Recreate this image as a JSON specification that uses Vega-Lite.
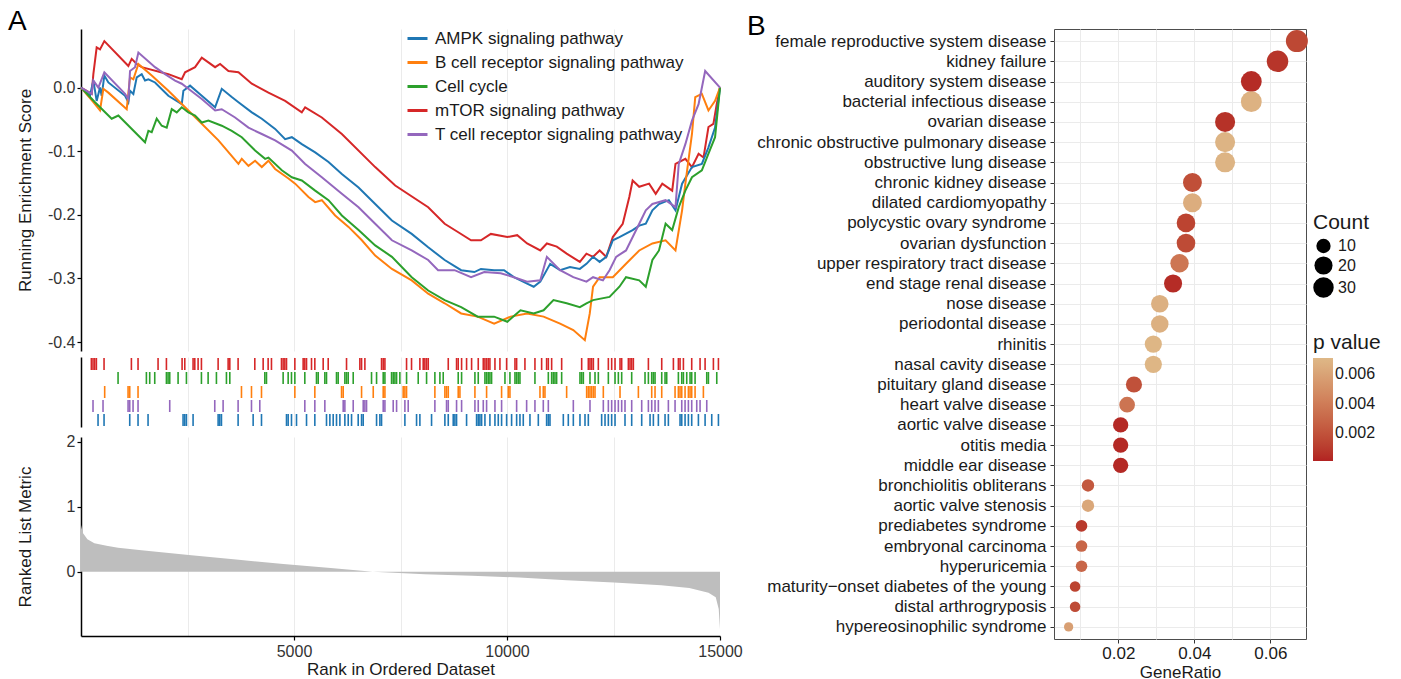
{
"$schema":"https://vega.github.io/schema/vega-lite/v6.json",
"background":"white",
"padding":{"left":8,"top":8,"right":0,"bottom":0},
"config":{
 "font":"Liberation Sans",
 "view":{"stroke":null},
 "axis":{"labelFont":"Liberation Sans","titleFont":"Liberation Sans","labelColor":"#333333","titleColor":"#1a1a1a","titleFontWeight":"normal","domainColor":"#000000","tickColor":"#000000","gridColor":"#EBEBEB","gridWidth":1,"labelFontSize":16,"titleFontSize":17,"labelLimit":500},
 "legend":{"labelFont":"Liberation Sans","titleFont":"Liberation Sans","titleFontWeight":"normal","labelColor":"#1a1a1a","titleColor":"#1a1a1a","labelLimit":500},
 "title":{"font":"Liberation Sans","fontWeight":"normal","fontSize":28,"color":"#000000"}
},
"datasets":{
"es":[
{"p":"mTOR signaling pathway","x":0,"y":0},{"p":"mTOR signaling pathway","x":251,"y":-0.010},{"p":"mTOR signaling pathway","x":290,"y":0.021},{"p":"mTOR signaling pathway","x":368,"y":0.063},{"p":"mTOR signaling pathway","x":446,"y":0.060},{"p":"mTOR signaling pathway","x":548,"y":0.073},{"p":"mTOR signaling pathway","x":1112,"y":0.034},{"p":"mTOR signaling pathway","x":1190,"y":0.045},{"p":"mTOR signaling pathway","x":1308,"y":0.037},{"p":"mTOR signaling pathway","x":1425,"y":0.032},{"p":"mTOR signaling pathway","x":2051,"y":0.021},{"p":"mTOR signaling pathway","x":2365,"y":0.013},{"p":"mTOR signaling pathway","x":2443,"y":0.024},{"p":"mTOR signaling pathway","x":2678,"y":0.032},{"p":"mTOR signaling pathway","x":2835,"y":0.047},{"p":"mTOR signaling pathway","x":3148,"y":0.032},{"p":"mTOR signaling pathway","x":3265,"y":0.037},{"p":"mTOR signaling pathway","x":3461,"y":0.026},{"p":"mTOR signaling pathway","x":3696,"y":0.024},{"p":"mTOR signaling pathway","x":4009,"y":0.006},{"p":"mTOR signaling pathway","x":4400,"y":-0.008},{"p":"mTOR signaling pathway","x":4792,"y":-0.021},{"p":"mTOR signaling pathway","x":5183,"y":-0.039},{"p":"mTOR signaling pathway","x":5262,"y":-0.031},{"p":"mTOR signaling pathway","x":5653,"y":-0.047},{"p":"mTOR signaling pathway","x":6123,"y":-0.073},{"p":"mTOR signaling pathway","x":6906,"y":-0.125},{"p":"mTOR signaling pathway","x":7376,"y":-0.154},{"p":"mTOR signaling pathway","x":8150,"y":-0.188},{"p":"mTOR signaling pathway","x":8537,"y":-0.214},{"p":"mTOR signaling pathway","x":8847,"y":-0.227},{"p":"mTOR signaling pathway","x":9156,"y":-0.240},{"p":"mTOR signaling pathway","x":9388,"y":-0.240},{"p":"mTOR signaling pathway","x":9621,"y":-0.230},{"p":"mTOR signaling pathway","x":10008,"y":-0.235},{"p":"mTOR signaling pathway","x":10240,"y":-0.232},{"p":"mTOR signaling pathway","x":10472,"y":-0.245},{"p":"mTOR signaling pathway","x":10782,"y":-0.256},{"p":"mTOR signaling pathway","x":10936,"y":-0.245},{"p":"mTOR signaling pathway","x":11169,"y":-0.250},{"p":"mTOR signaling pathway","x":11401,"y":-0.261},{"p":"mTOR signaling pathway","x":11710,"y":-0.274},{"p":"mTOR signaling pathway","x":11865,"y":-0.261},{"p":"mTOR signaling pathway","x":12020,"y":-0.266},{"p":"mTOR signaling pathway","x":12175,"y":-0.256},{"p":"mTOR signaling pathway","x":12330,"y":-0.266},{"p":"mTOR signaling pathway","x":12484,"y":-0.235},{"p":"mTOR signaling pathway","x":12717,"y":-0.214},{"p":"mTOR signaling pathway","x":12871,"y":-0.172},{"p":"mTOR signaling pathway","x":12949,"y":-0.146},{"p":"mTOR signaling pathway","x":13104,"y":-0.156},{"p":"mTOR signaling pathway","x":13336,"y":-0.151},{"p":"mTOR signaling pathway","x":13491,"y":-0.167},{"p":"mTOR signaling pathway","x":13645,"y":-0.151},{"p":"mTOR signaling pathway","x":13878,"y":-0.162},{"p":"mTOR signaling pathway","x":13955,"y":-0.120},{"p":"mTOR signaling pathway","x":14187,"y":-0.112},{"p":"mTOR signaling pathway","x":14342,"y":-0.125},{"p":"mTOR signaling pathway","x":14497,"y":-0.104},{"p":"mTOR signaling pathway","x":14613,"y":-0.110},{"p":"mTOR signaling pathway","x":14729,"y":-0.062},{"p":"mTOR signaling pathway","x":14845,"y":-0.057},{"p":"mTOR signaling pathway","x":14923,"y":-0.026},{"p":"mTOR signaling pathway","x":15000,"y":0},
{"p":"AMPK signaling pathway","x":0,"y":0},{"p":"AMPK signaling pathway","x":211,"y":-0.013},{"p":"AMPK signaling pathway","x":290,"y":0.011},{"p":"AMPK signaling pathway","x":368,"y":-0.021},{"p":"AMPK signaling pathway","x":446,"y":0.000},{"p":"AMPK signaling pathway","x":485,"y":-0.013},{"p":"AMPK signaling pathway","x":548,"y":0.019},{"p":"AMPK signaling pathway","x":642,"y":0.008},{"p":"AMPK signaling pathway","x":1034,"y":-0.013},{"p":"AMPK signaling pathway","x":1112,"y":-0.023},{"p":"AMPK signaling pathway","x":1151,"y":-0.005},{"p":"AMPK signaling pathway","x":1229,"y":-0.010},{"p":"AMPK signaling pathway","x":1308,"y":0.016},{"p":"AMPK signaling pathway","x":1425,"y":0.021},{"p":"AMPK signaling pathway","x":1503,"y":0.011},{"p":"AMPK signaling pathway","x":1582,"y":0.013},{"p":"AMPK signaling pathway","x":1738,"y":0.008},{"p":"AMPK signaling pathway","x":2051,"y":-0.013},{"p":"AMPK signaling pathway","x":2365,"y":-0.026},{"p":"AMPK signaling pathway","x":2404,"y":-0.005},{"p":"AMPK signaling pathway","x":2560,"y":0.003},{"p":"AMPK signaling pathway","x":2835,"y":-0.013},{"p":"AMPK signaling pathway","x":3148,"y":-0.031},{"p":"AMPK signaling pathway","x":3304,"y":-0.002},{"p":"AMPK signaling pathway","x":3539,"y":-0.015},{"p":"AMPK signaling pathway","x":3696,"y":-0.023},{"p":"AMPK signaling pathway","x":4009,"y":-0.039},{"p":"AMPK signaling pathway","x":4244,"y":-0.049},{"p":"AMPK signaling pathway","x":4557,"y":-0.065},{"p":"AMPK signaling pathway","x":4792,"y":-0.081},{"p":"AMPK signaling pathway","x":4949,"y":-0.078},{"p":"AMPK signaling pathway","x":5183,"y":-0.089},{"p":"AMPK signaling pathway","x":5497,"y":-0.102},{"p":"AMPK signaling pathway","x":5810,"y":-0.117},{"p":"AMPK signaling pathway","x":6123,"y":-0.136},{"p":"AMPK signaling pathway","x":6515,"y":-0.157},{"p":"AMPK signaling pathway","x":6906,"y":-0.183},{"p":"AMPK signaling pathway","x":7298,"y":-0.209},{"p":"AMPK signaling pathway","x":7763,"y":-0.230},{"p":"AMPK signaling pathway","x":8150,"y":-0.251},{"p":"AMPK signaling pathway","x":8537,"y":-0.271},{"p":"AMPK signaling pathway","x":8924,"y":-0.287},{"p":"AMPK signaling pathway","x":9234,"y":-0.290},{"p":"AMPK signaling pathway","x":9388,"y":-0.285},{"p":"AMPK signaling pathway","x":9698,"y":-0.287},{"p":"AMPK signaling pathway","x":9930,"y":-0.287},{"p":"AMPK signaling pathway","x":10162,"y":-0.298},{"p":"AMPK signaling pathway","x":10472,"y":-0.308},{"p":"AMPK signaling pathway","x":10627,"y":-0.313},{"p":"AMPK signaling pathway","x":10782,"y":-0.305},{"p":"AMPK signaling pathway","x":11014,"y":-0.277},{"p":"AMPK signaling pathway","x":11246,"y":-0.287},{"p":"AMPK signaling pathway","x":11478,"y":-0.282},{"p":"AMPK signaling pathway","x":11710,"y":-0.285},{"p":"AMPK signaling pathway","x":11865,"y":-0.277},{"p":"AMPK signaling pathway","x":12020,"y":-0.266},{"p":"AMPK signaling pathway","x":12175,"y":-0.274},{"p":"AMPK signaling pathway","x":12330,"y":-0.266},{"p":"AMPK signaling pathway","x":12484,"y":-0.240},{"p":"AMPK signaling pathway","x":12639,"y":-0.235},{"p":"AMPK signaling pathway","x":12949,"y":-0.224},{"p":"AMPK signaling pathway","x":13104,"y":-0.217},{"p":"AMPK signaling pathway","x":13258,"y":-0.214},{"p":"AMPK signaling pathway","x":13413,"y":-0.193},{"p":"AMPK signaling pathway","x":13568,"y":-0.183},{"p":"AMPK signaling pathway","x":13800,"y":-0.177},{"p":"AMPK signaling pathway","x":13955,"y":-0.193},{"p":"AMPK signaling pathway","x":14110,"y":-0.151},{"p":"AMPK signaling pathway","x":14342,"y":-0.125},{"p":"AMPK signaling pathway","x":14574,"y":-0.120},{"p":"AMPK signaling pathway","x":14729,"y":-0.094},{"p":"AMPK signaling pathway","x":14884,"y":-0.063},{"p":"AMPK signaling pathway","x":15000,"y":0},
{"p":"B cell receptor signaling pathway","x":0,"y":0},{"p":"B cell receptor signaling pathway","x":290,"y":-0.023},{"p":"B cell receptor signaling pathway","x":446,"y":-0.036},{"p":"B cell receptor signaling pathway","x":525,"y":-0.002},{"p":"B cell receptor signaling pathway","x":642,"y":-0.008},{"p":"B cell receptor signaling pathway","x":1073,"y":-0.034},{"p":"B cell receptor signaling pathway","x":1151,"y":0.016},{"p":"B cell receptor signaling pathway","x":1229,"y":0.013},{"p":"B cell receptor signaling pathway","x":1347,"y":0.037},{"p":"B cell receptor signaling pathway","x":1660,"y":0.019},{"p":"B cell receptor signaling pathway","x":2051,"y":-0.005},{"p":"B cell receptor signaling pathway","x":2443,"y":-0.031},{"p":"B cell receptor signaling pathway","x":2835,"y":-0.057},{"p":"B cell receptor signaling pathway","x":3226,"y":-0.083},{"p":"B cell receptor signaling pathway","x":3696,"y":-0.120},{"p":"B cell receptor signaling pathway","x":3774,"y":-0.112},{"p":"B cell receptor signaling pathway","x":3931,"y":-0.123},{"p":"B cell receptor signaling pathway","x":4087,"y":-0.115},{"p":"B cell receptor signaling pathway","x":4244,"y":-0.125},{"p":"B cell receptor signaling pathway","x":4400,"y":-0.115},{"p":"B cell receptor signaling pathway","x":4557,"y":-0.128},{"p":"B cell receptor signaling pathway","x":4870,"y":-0.143},{"p":"B cell receptor signaling pathway","x":5027,"y":-0.151},{"p":"B cell receptor signaling pathway","x":5340,"y":-0.172},{"p":"B cell receptor signaling pathway","x":5497,"y":-0.180},{"p":"B cell receptor signaling pathway","x":5653,"y":-0.177},{"p":"B cell receptor signaling pathway","x":5966,"y":-0.201},{"p":"B cell receptor signaling pathway","x":6280,"y":-0.219},{"p":"B cell receptor signaling pathway","x":6593,"y":-0.240},{"p":"B cell receptor signaling pathway","x":6906,"y":-0.264},{"p":"B cell receptor signaling pathway","x":7298,"y":-0.285},{"p":"B cell receptor signaling pathway","x":7763,"y":-0.303},{"p":"B cell receptor signaling pathway","x":8150,"y":-0.324},{"p":"B cell receptor signaling pathway","x":8537,"y":-0.339},{"p":"B cell receptor signaling pathway","x":8924,"y":-0.355},{"p":"B cell receptor signaling pathway","x":9311,"y":-0.360},{"p":"B cell receptor signaling pathway","x":9698,"y":-0.371},{"p":"B cell receptor signaling pathway","x":10085,"y":-0.360},{"p":"B cell receptor signaling pathway","x":10472,"y":-0.355},{"p":"B cell receptor signaling pathway","x":10859,"y":-0.360},{"p":"B cell receptor signaling pathway","x":11246,"y":-0.371},{"p":"B cell receptor signaling pathway","x":11556,"y":-0.381},{"p":"B cell receptor signaling pathway","x":11827,"y":-0.397},{"p":"B cell receptor signaling pathway","x":11943,"y":-0.355},{"p":"B cell receptor signaling pathway","x":12020,"y":-0.313},{"p":"B cell receptor signaling pathway","x":12175,"y":-0.298},{"p":"B cell receptor signaling pathway","x":12484,"y":-0.298},{"p":"B cell receptor signaling pathway","x":12794,"y":-0.277},{"p":"B cell receptor signaling pathway","x":13104,"y":-0.256},{"p":"B cell receptor signaling pathway","x":13413,"y":-0.245},{"p":"B cell receptor signaling pathway","x":13723,"y":-0.240},{"p":"B cell receptor signaling pathway","x":13955,"y":-0.256},{"p":"B cell receptor signaling pathway","x":14110,"y":-0.193},{"p":"B cell receptor signaling pathway","x":14187,"y":-0.151},{"p":"B cell receptor signaling pathway","x":14342,"y":-0.073},{"p":"B cell receptor signaling pathway","x":14419,"y":-0.015},{"p":"B cell receptor signaling pathway","x":14574,"y":-0.010},{"p":"B cell receptor signaling pathway","x":14729,"y":-0.036},{"p":"B cell receptor signaling pathway","x":14884,"y":-0.021},{"p":"B cell receptor signaling pathway","x":15000,"y":0},
{"p":"Cell cycle","x":0,"y":0},{"p":"Cell cycle","x":329,"y":-0.023},{"p":"Cell cycle","x":720,"y":-0.049},{"p":"Cell cycle","x":877,"y":-0.044},{"p":"Cell cycle","x":1503,"y":-0.086},{"p":"Cell cycle","x":1582,"y":-0.068},{"p":"Cell cycle","x":1660,"y":-0.070},{"p":"Cell cycle","x":1777,"y":-0.049},{"p":"Cell cycle","x":1895,"y":-0.060},{"p":"Cell cycle","x":2012,"y":-0.063},{"p":"Cell cycle","x":2130,"y":-0.034},{"p":"Cell cycle","x":2247,"y":-0.039},{"p":"Cell cycle","x":2365,"y":-0.031},{"p":"Cell cycle","x":2521,"y":-0.039},{"p":"Cell cycle","x":2678,"y":-0.044},{"p":"Cell cycle","x":2835,"y":-0.055},{"p":"Cell cycle","x":2991,"y":-0.052},{"p":"Cell cycle","x":3304,"y":-0.060},{"p":"Cell cycle","x":3539,"y":-0.068},{"p":"Cell cycle","x":3774,"y":-0.078},{"p":"Cell cycle","x":4087,"y":-0.099},{"p":"Cell cycle","x":4322,"y":-0.112},{"p":"Cell cycle","x":4400,"y":-0.110},{"p":"Cell cycle","x":4714,"y":-0.130},{"p":"Cell cycle","x":4949,"y":-0.141},{"p":"Cell cycle","x":5183,"y":-0.146},{"p":"Cell cycle","x":5497,"y":-0.162},{"p":"Cell cycle","x":5810,"y":-0.177},{"p":"Cell cycle","x":6123,"y":-0.201},{"p":"Cell cycle","x":6515,"y":-0.224},{"p":"Cell cycle","x":6906,"y":-0.248},{"p":"Cell cycle","x":7298,"y":-0.266},{"p":"Cell cycle","x":7763,"y":-0.298},{"p":"Cell cycle","x":8150,"y":-0.319},{"p":"Cell cycle","x":8537,"y":-0.334},{"p":"Cell cycle","x":8924,"y":-0.345},{"p":"Cell cycle","x":9311,"y":-0.360},{"p":"Cell cycle","x":9698,"y":-0.360},{"p":"Cell cycle","x":10008,"y":-0.368},{"p":"Cell cycle","x":10317,"y":-0.350},{"p":"Cell cycle","x":10627,"y":-0.355},{"p":"Cell cycle","x":10859,"y":-0.350},{"p":"Cell cycle","x":11091,"y":-0.334},{"p":"Cell cycle","x":11401,"y":-0.339},{"p":"Cell cycle","x":11710,"y":-0.345},{"p":"Cell cycle","x":11865,"y":-0.339},{"p":"Cell cycle","x":12020,"y":-0.334},{"p":"Cell cycle","x":12407,"y":-0.329},{"p":"Cell cycle","x":12639,"y":-0.313},{"p":"Cell cycle","x":12794,"y":-0.298},{"p":"Cell cycle","x":13104,"y":-0.303},{"p":"Cell cycle","x":13258,"y":-0.313},{"p":"Cell cycle","x":13413,"y":-0.271},{"p":"Cell cycle","x":13568,"y":-0.256},{"p":"Cell cycle","x":13723,"y":-0.214},{"p":"Cell cycle","x":13878,"y":-0.224},{"p":"Cell cycle","x":14032,"y":-0.188},{"p":"Cell cycle","x":14187,"y":-0.162},{"p":"Cell cycle","x":14342,"y":-0.141},{"p":"Cell cycle","x":14574,"y":-0.130},{"p":"Cell cycle","x":14729,"y":-0.104},{"p":"Cell cycle","x":14884,"y":-0.078},{"p":"Cell cycle","x":15000,"y":0},
{"p":"T cell receptor signaling pathway","x":0,"y":0},{"p":"T cell receptor signaling pathway","x":251,"y":-0.010},{"p":"T cell receptor signaling pathway","x":290,"y":0.011},{"p":"T cell receptor signaling pathway","x":407,"y":0.000},{"p":"T cell receptor signaling pathway","x":548,"y":0.024},{"p":"T cell receptor signaling pathway","x":1034,"y":-0.010},{"p":"T cell receptor signaling pathway","x":1112,"y":-0.018},{"p":"T cell receptor signaling pathway","x":1151,"y":0.026},{"p":"T cell receptor signaling pathway","x":1268,"y":0.032},{"p":"T cell receptor signaling pathway","x":1347,"y":0.055},{"p":"T cell receptor signaling pathway","x":1738,"y":0.032},{"p":"T cell receptor signaling pathway","x":1973,"y":0.021},{"p":"T cell receptor signaling pathway","x":2208,"y":0.011},{"p":"T cell receptor signaling pathway","x":2365,"y":0.006},{"p":"T cell receptor signaling pathway","x":2521,"y":-0.002},{"p":"T cell receptor signaling pathway","x":2835,"y":-0.018},{"p":"T cell receptor signaling pathway","x":3148,"y":-0.036},{"p":"T cell receptor signaling pathway","x":3304,"y":-0.034},{"p":"T cell receptor signaling pathway","x":3617,"y":-0.047},{"p":"T cell receptor signaling pathway","x":3931,"y":-0.063},{"p":"T cell receptor signaling pathway","x":4244,"y":-0.073},{"p":"T cell receptor signaling pathway","x":4557,"y":-0.083},{"p":"T cell receptor signaling pathway","x":4949,"y":-0.099},{"p":"T cell receptor signaling pathway","x":5262,"y":-0.120},{"p":"T cell receptor signaling pathway","x":5653,"y":-0.141},{"p":"T cell receptor signaling pathway","x":6123,"y":-0.167},{"p":"T cell receptor signaling pathway","x":6515,"y":-0.188},{"p":"T cell receptor signaling pathway","x":6906,"y":-0.214},{"p":"T cell receptor signaling pathway","x":7298,"y":-0.240},{"p":"T cell receptor signaling pathway","x":7763,"y":-0.256},{"p":"T cell receptor signaling pathway","x":8150,"y":-0.271},{"p":"T cell receptor signaling pathway","x":8382,"y":-0.287},{"p":"T cell receptor signaling pathway","x":8769,"y":-0.287},{"p":"T cell receptor signaling pathway","x":9156,"y":-0.298},{"p":"T cell receptor signaling pathway","x":9466,"y":-0.290},{"p":"T cell receptor signaling pathway","x":9853,"y":-0.292},{"p":"T cell receptor signaling pathway","x":10162,"y":-0.298},{"p":"T cell receptor signaling pathway","x":10472,"y":-0.305},{"p":"T cell receptor signaling pathway","x":10782,"y":-0.303},{"p":"T cell receptor signaling pathway","x":10936,"y":-0.266},{"p":"T cell receptor signaling pathway","x":11246,"y":-0.287},{"p":"T cell receptor signaling pathway","x":11556,"y":-0.298},{"p":"T cell receptor signaling pathway","x":11865,"y":-0.305},{"p":"T cell receptor signaling pathway","x":12020,"y":-0.298},{"p":"T cell receptor signaling pathway","x":12252,"y":-0.303},{"p":"T cell receptor signaling pathway","x":12407,"y":-0.287},{"p":"T cell receptor signaling pathway","x":12562,"y":-0.266},{"p":"T cell receptor signaling pathway","x":12794,"y":-0.256},{"p":"T cell receptor signaling pathway","x":13104,"y":-0.214},{"p":"T cell receptor signaling pathway","x":13258,"y":-0.193},{"p":"T cell receptor signaling pathway","x":13413,"y":-0.183},{"p":"T cell receptor signaling pathway","x":13723,"y":-0.177},{"p":"T cell receptor signaling pathway","x":13955,"y":-0.188},{"p":"T cell receptor signaling pathway","x":14032,"y":-0.120},{"p":"T cell receptor signaling pathway","x":14187,"y":-0.089},{"p":"T cell receptor signaling pathway","x":14342,"y":-0.052},{"p":"T cell receptor signaling pathway","x":14497,"y":-0.026},{"p":"T cell receptor signaling pathway","x":14652,"y":0.026},{"p":"T cell receptor signaling pathway","x":15000,"y":0}
],
"hits":[
{"g":"mTOR","x":243},{"g":"mTOR","x":282},{"g":"mTOR","x":322},{"g":"mTOR","x":361},{"g":"mTOR","x":541},{"g":"mTOR","x":1183},{"g":"mTOR","x":1339},{"g":"mTOR","x":1809},{"g":"mTOR","x":2005},{"g":"mTOR","x":2373},{"g":"mTOR","x":2436},{"g":"mTOR","x":2631},{"g":"mTOR","x":2671},{"g":"mTOR","x":2749},{"g":"mTOR","x":2827},{"g":"mTOR","x":3219},{"g":"mTOR","x":3454},{"g":"mTOR","x":3493},{"g":"mTOR","x":3688},{"g":"mTOR","x":4080},{"g":"mTOR","x":4276},{"g":"mTOR","x":4393},{"g":"mTOR","x":4471},{"g":"mTOR","x":4706},{"g":"mTOR","x":4745},{"g":"mTOR","x":4785},{"g":"mTOR","x":4824},{"g":"mTOR","x":5020},{"g":"mTOR","x":5215},{"g":"mTOR","x":5254},{"g":"mTOR","x":5294},{"g":"mTOR","x":5411},{"g":"mTOR","x":5489},{"g":"mTOR","x":5685},{"g":"mTOR","x":5803},{"g":"mTOR","x":6233},{"g":"mTOR","x":6546},{"g":"mTOR","x":6586},{"g":"mTOR","x":6664},{"g":"mTOR","x":7055},{"g":"mTOR","x":7094},{"g":"mTOR","x":7134},{"g":"mTOR","x":7642},{"g":"mTOR","x":7759},{"g":"mTOR","x":7955},{"g":"mTOR","x":8033},{"g":"mTOR","x":8072},{"g":"mTOR","x":8112},{"g":"mTOR","x":8151},{"g":"mTOR","x":8621},{"g":"mTOR","x":8816},{"g":"mTOR","x":8855},{"g":"mTOR","x":8934},{"g":"mTOR","x":9051},{"g":"mTOR","x":9169},{"g":"mTOR","x":9325},{"g":"mTOR","x":9443},{"g":"mTOR","x":9482},{"g":"mTOR","x":9521},{"g":"mTOR","x":9560},{"g":"mTOR","x":9599},{"g":"mTOR","x":9717},{"g":"mTOR","x":9834},{"g":"mTOR","x":9991},{"g":"mTOR","x":10187},{"g":"mTOR","x":10226},{"g":"mTOR","x":10421},{"g":"mTOR","x":10656},{"g":"mTOR","x":10813},{"g":"mTOR","x":10930},{"g":"mTOR","x":10970},{"g":"mTOR","x":11048},{"g":"mTOR","x":11283},{"g":"mTOR","x":11753},{"g":"mTOR","x":11909},{"g":"mTOR","x":11948},{"g":"mTOR","x":11987},{"g":"mTOR","x":12027},{"g":"mTOR","x":12144},{"g":"mTOR","x":12379},{"g":"mTOR","x":12457},{"g":"mTOR","x":12536},{"g":"mTOR","x":12653},{"g":"mTOR","x":12692},{"g":"mTOR","x":12849},{"g":"mTOR","x":12888},{"g":"mTOR","x":12927},{"g":"mTOR","x":12966},{"g":"mTOR","x":13319},{"g":"mTOR","x":13632},{"g":"mTOR","x":13906},{"g":"mTOR","x":14023},{"g":"mTOR","x":14062},{"g":"mTOR","x":14141},{"g":"mTOR","x":14336},{"g":"mTOR","x":14532},{"g":"mTOR","x":14650},{"g":"mTOR","x":14845},{"g":"mTOR","x":14963},
{"g":"Cell","x":870},{"g":"Cell","x":1535},{"g":"Cell","x":1613},{"g":"Cell","x":1731},{"g":"Cell","x":2005},{"g":"Cell","x":2044},{"g":"Cell","x":2083},{"g":"Cell","x":2279},{"g":"Cell","x":2475},{"g":"Cell","x":2827},{"g":"Cell","x":2984},{"g":"Cell","x":3179},{"g":"Cell","x":3414},{"g":"Cell","x":3493},{"g":"Cell","x":4315},{"g":"Cell","x":4354},{"g":"Cell","x":4745},{"g":"Cell","x":4863},{"g":"Cell","x":4941},{"g":"Cell","x":5020},{"g":"Cell","x":5254},{"g":"Cell","x":5528},{"g":"Cell","x":5568},{"g":"Cell","x":5724},{"g":"Cell","x":5763},{"g":"Cell","x":5998},{"g":"Cell","x":6037},{"g":"Cell","x":6194},{"g":"Cell","x":6233},{"g":"Cell","x":6273},{"g":"Cell","x":6390},{"g":"Cell","x":6820},{"g":"Cell","x":6938},{"g":"Cell","x":7094},{"g":"Cell","x":7134},{"g":"Cell","x":7290},{"g":"Cell","x":7329},{"g":"Cell","x":7369},{"g":"Cell","x":7408},{"g":"Cell","x":7485},{"g":"Cell","x":7642},{"g":"Cell","x":7916},{"g":"Cell","x":8112},{"g":"Cell","x":8307},{"g":"Cell","x":8425},{"g":"Cell","x":8503},{"g":"Cell","x":8855},{"g":"Cell","x":8934},{"g":"Cell","x":9247},{"g":"Cell","x":9325},{"g":"Cell","x":9482},{"g":"Cell","x":9521},{"g":"Cell","x":9560},{"g":"Cell","x":9599},{"g":"Cell","x":9638},{"g":"Cell","x":9952},{"g":"Cell","x":10069},{"g":"Cell","x":10187},{"g":"Cell","x":10226},{"g":"Cell","x":10265},{"g":"Cell","x":10304},{"g":"Cell","x":10656},{"g":"Cell","x":10970},{"g":"Cell","x":11048},{"g":"Cell","x":11087},{"g":"Cell","x":11126},{"g":"Cell","x":11165},{"g":"Cell","x":11283},{"g":"Cell","x":11713},{"g":"Cell","x":11753},{"g":"Cell","x":11792},{"g":"Cell","x":11948},{"g":"Cell","x":12066},{"g":"Cell","x":12144},{"g":"Cell","x":12379},{"g":"Cell","x":12536},{"g":"Cell","x":12614},{"g":"Cell","x":12692},{"g":"Cell","x":12927},{"g":"Cell","x":13240},{"g":"Cell","x":13319},{"g":"Cell","x":13397},{"g":"Cell","x":13436},{"g":"Cell","x":13475},{"g":"Cell","x":13632},{"g":"Cell","x":13710},{"g":"Cell","x":13749},{"g":"Cell","x":14023},{"g":"Cell","x":14102},{"g":"Cell","x":14141},{"g":"Cell","x":14219},{"g":"Cell","x":14297},{"g":"Cell","x":14336},{"g":"Cell","x":14415},{"g":"Cell","x":14689},{"g":"Cell","x":14728},{"g":"Cell","x":14924},
{"g":"B","x":556},{"g":"B","x":1105},{"g":"B","x":1144},{"g":"B","x":1339},{"g":"B","x":3767},{"g":"B","x":4002},{"g":"B","x":4237},{"g":"B","x":5020},{"g":"B","x":5489},{"g":"B","x":6116},{"g":"B","x":6155},{"g":"B","x":6586},{"g":"B","x":6860},{"g":"B","x":7094},{"g":"B","x":7134},{"g":"B","x":7563},{"g":"B","x":7603},{"g":"B","x":7642},{"g":"B","x":8307},{"g":"B","x":8542},{"g":"B","x":8581},{"g":"B","x":8621},{"g":"B","x":8855},{"g":"B","x":8895},{"g":"B","x":9247},{"g":"B","x":9521},{"g":"B","x":9873},{"g":"B","x":10030},{"g":"B","x":10069},{"g":"B","x":10774},{"g":"B","x":10852},{"g":"B","x":10891},{"g":"B","x":11400},{"g":"B","x":11870},{"g":"B","x":11909},{"g":"B","x":11948},{"g":"B","x":11987},{"g":"B","x":12027},{"g":"B","x":12066},{"g":"B","x":12261},{"g":"B","x":12653},{"g":"B","x":13084},{"g":"B","x":13397},{"g":"B","x":13475},{"g":"B","x":13632},{"g":"B","x":13945},{"g":"B","x":14023},{"g":"B","x":14062},{"g":"B","x":14102},{"g":"B","x":14180},{"g":"B","x":14258},{"g":"B","x":14297},{"g":"B","x":14336},{"g":"B","x":14415},{"g":"B","x":14610},
{"g":"T","x":282},{"g":"T","x":517},{"g":"T","x":1105},{"g":"T","x":1144},{"g":"T","x":1222},{"g":"T","x":1339},{"g":"T","x":2083},{"g":"T","x":3140},{"g":"T","x":3336},{"g":"T","x":3688},{"g":"T","x":4002},{"g":"T","x":4197},{"g":"T","x":5254},{"g":"T","x":5489},{"g":"T","x":5724},{"g":"T","x":6155},{"g":"T","x":6194},{"g":"T","x":6390},{"g":"T","x":6625},{"g":"T","x":6664},{"g":"T","x":6703},{"g":"T","x":7094},{"g":"T","x":7134},{"g":"T","x":7329},{"g":"T","x":7408},{"g":"T","x":7603},{"g":"T","x":7681},{"g":"T","x":8307},{"g":"T","x":8581},{"g":"T","x":8621},{"g":"T","x":8816},{"g":"T","x":8934},{"g":"T","x":9247},{"g":"T","x":9325},{"g":"T","x":9443},{"g":"T","x":9521},{"g":"T","x":9717},{"g":"T","x":9873},{"g":"T","x":10226},{"g":"T","x":10461},{"g":"T","x":10656},{"g":"T","x":10852},{"g":"T","x":10970},{"g":"T","x":11557},{"g":"T","x":11948},{"g":"T","x":12261},{"g":"T","x":12379},{"g":"T","x":12457},{"g":"T","x":12536},{"g":"T","x":12614},{"g":"T","x":12692},{"g":"T","x":12770},{"g":"T","x":12927},{"g":"T","x":13162},{"g":"T","x":13319},{"g":"T","x":13397},{"g":"T","x":13475},{"g":"T","x":13553},{"g":"T","x":13788},{"g":"T","x":13945},{"g":"T","x":14102},{"g":"T","x":14180},{"g":"T","x":14258},{"g":"T","x":14336},{"g":"T","x":14454},{"g":"T","x":14532},{"g":"T","x":14689},
{"g":"AMPK","x":400},{"g":"AMPK","x":541},{"g":"AMPK","x":1144},{"g":"AMPK","x":1339},{"g":"AMPK","x":1574},{"g":"AMPK","x":2396},{"g":"AMPK","x":2436},{"g":"AMPK","x":2475},{"g":"AMPK","x":2631},{"g":"AMPK","x":3219},{"g":"AMPK","x":3258},{"g":"AMPK","x":3297},{"g":"AMPK","x":3688},{"g":"AMPK","x":4041},{"g":"AMPK","x":4237},{"g":"AMPK","x":4824},{"g":"AMPK","x":4863},{"g":"AMPK","x":4941},{"g":"AMPK","x":5059},{"g":"AMPK","x":5294},{"g":"AMPK","x":5489},{"g":"AMPK","x":5763},{"g":"AMPK","x":5842},{"g":"AMPK","x":5920},{"g":"AMPK","x":5998},{"g":"AMPK","x":6077},{"g":"AMPK","x":6194},{"g":"AMPK","x":6273},{"g":"AMPK","x":6351},{"g":"AMPK","x":6507},{"g":"AMPK","x":6586},{"g":"AMPK","x":6625},{"g":"AMPK","x":6938},{"g":"AMPK","x":7016},{"g":"AMPK","x":7055},{"g":"AMPK","x":7603},{"g":"AMPK","x":7877},{"g":"AMPK","x":7955},{"g":"AMPK","x":8229},{"g":"AMPK","x":8542},{"g":"AMPK","x":8621},{"g":"AMPK","x":8738},{"g":"AMPK","x":8777},{"g":"AMPK","x":8816},{"g":"AMPK","x":9051},{"g":"AMPK","x":9286},{"g":"AMPK","x":9325},{"g":"AMPK","x":9364},{"g":"AMPK","x":9404},{"g":"AMPK","x":9482},{"g":"AMPK","x":9599},{"g":"AMPK","x":9717},{"g":"AMPK","x":9795},{"g":"AMPK","x":9873},{"g":"AMPK","x":9991},{"g":"AMPK","x":10108},{"g":"AMPK","x":10226},{"g":"AMPK","x":10304},{"g":"AMPK","x":10382},{"g":"AMPK","x":10539},{"g":"AMPK","x":10735},{"g":"AMPK","x":10930},{"g":"AMPK","x":10970},{"g":"AMPK","x":11009},{"g":"AMPK","x":11322},{"g":"AMPK","x":11439},{"g":"AMPK","x":11557},{"g":"AMPK","x":11713},{"g":"AMPK","x":11831},{"g":"AMPK","x":11909},{"g":"AMPK","x":12222},{"g":"AMPK","x":12301},{"g":"AMPK","x":12379},{"g":"AMPK","x":12457},{"g":"AMPK","x":12536},{"g":"AMPK","x":12770},{"g":"AMPK","x":12927},{"g":"AMPK","x":13162},{"g":"AMPK","x":13358},{"g":"AMPK","x":13436},{"g":"AMPK","x":13553},{"g":"AMPK","x":13710},{"g":"AMPK","x":13788},{"g":"AMPK","x":14062},{"g":"AMPK","x":14102},{"g":"AMPK","x":14180},{"g":"AMPK","x":14258},{"g":"AMPK","x":14336},{"g":"AMPK","x":14493},{"g":"AMPK","x":14650},{"g":"AMPK","x":14806},{"g":"AMPK","x":14963}
],
"metric":[
{"x":0,"m":0.72},{"x":40,"m":0.60},{"x":150,"m":0.50},{"x":314,"m":0.44},{"x":600,"m":0.40},{"x":870,"m":0.37},{"x":1420,"m":0.33},{"x":2530,"m":0.26},{"x":3640,"m":0.19},{"x":4750,"m":0.12},{"x":5860,"m":0.06},{"x":6850,"m":0.0},{"x":8075,"m":-0.036},{"x":9180,"m":-0.06},{"x":10290,"m":-0.087},{"x":11400,"m":-0.128},{"x":12510,"m":-0.164},{"x":13620,"m":-0.205},{"x":14280,"m":-0.25},{"x":14730,"m":-0.32},{"x":14900,"m":-0.39},{"x":14970,"m":-0.57},{"x":15000,"m":-0.88}
],
"dots":[
{"d":"female reproductive system disease","r":0.0670,"c":39,"pv":0.0015},
{"d":"kidney failure","r":0.0619,"c":36,"pv":0.0007},
{"d":"auditory system disease","r":0.0550,"c":32,"pv":0.0004},
{"d":"bacterial infectious disease","r":0.0550,"c":32,"pv":0.0068},
{"d":"ovarian disease","r":0.0481,"c":28,"pv":0.0006},
{"d":"chronic obstructive pulmonary disease","r":0.0481,"c":28,"pv":0.0069},
{"d":"obstructive lung disease","r":0.0481,"c":28,"pv":0.0069},
{"d":"chronic kidney disease","r":0.0395,"c":23,"pv":0.0018},
{"d":"dilated cardiomyopathy","r":0.0395,"c":23,"pv":0.0065},
{"d":"polycystic ovary syndrome","r":0.0378,"c":22,"pv":0.0013},
{"d":"ovarian dysfunction","r":0.0378,"c":22,"pv":0.0016},
{"d":"upper respiratory tract disease","r":0.0361,"c":21,"pv":0.0037},
{"d":"end stage renal disease","r":0.0344,"c":20,"pv":0.0004},
{"d":"nose disease","r":0.0309,"c":18,"pv":0.0067},
{"d":"periodontal disease","r":0.0309,"c":18,"pv":0.0067},
{"d":"rhinitis","r":0.0292,"c":17,"pv":0.0070},
{"d":"nasal cavity disease","r":0.0292,"c":17,"pv":0.0070},
{"d":"pituitary gland disease","r":0.0241,"c":14,"pv":0.0019},
{"d":"heart valve disease","r":0.0223,"c":13,"pv":0.0036},
{"d":"aortic valve disease","r":0.0206,"c":12,"pv":0.0003},
{"d":"otitis media","r":0.0206,"c":12,"pv":0.0003},
{"d":"middle ear disease","r":0.0206,"c":12,"pv":0.0003},
{"d":"bronchiolitis obliterans","r":0.0120,"c":7,"pv":0.0022},
{"d":"aortic valve stenosis","r":0.0120,"c":7,"pv":0.0062},
{"d":"prediabetes syndrome","r":0.0103,"c":6,"pv":0.0009},
{"d":"embryonal carcinoma","r":0.0103,"c":6,"pv":0.0029},
{"d":"hyperuricemia","r":0.0103,"c":6,"pv":0.0029},
{"d":"maturity−onset diabetes of the young","r":0.0086,"c":5,"pv":0.0013},
{"d":"distal arthrogryposis","r":0.0086,"c":5,"pv":0.0016},
{"d":"hypereosinophilic syndrome","r":0.0069,"c":4,"pv":0.0058}
]
},
"hconcat":[
{
 "vconcat":[
  {
   "width":639,"height":322,
   "title":{"text":"A","anchor":"start","frame":"group","dx":-73,"dy":27,"offset":-4,"baseline":"alphabetic"},
   "data":{"name":"es"},
   "mark":{"type":"line","strokeWidth":2},
   "encoding":{
    "x":{"field":"x","type":"quantitative","scale":{"domain":[0,15000],"nice":false},"axis":{"values":[2500,5000,7500,10000,12500],"grid":true,"labels":false,"ticks":false,"domain":false,"title":null}},
    "y":{"field":"y","type":"quantitative","scale":{"domain":[-0.414,0.092],"nice":false,"zero":false},"axis":{"values":[0,-0.1,-0.2,-0.3,-0.4],"labelExpr":"replace(format(datum.value,'.1f'),'\u2212','-')","grid":false,"title":"Running Enrichment Score","domainWidth":1.5,"tickSize":4,"tickWidth":1.2,"titleX":-56,"titleBaseline":"middle"}},
    "color":{"field":"p","type":"nominal","scale":{"domain":["AMPK signaling pathway","B cell receptor signaling pathway","Cell cycle","mTOR signaling pathway","T cell receptor signaling pathway"],"range":["#1F77B4","#FF7F0E","#2CA02C","#D62728","#9467BD"]},
     "legend":{"title":null,"orient":"none","legendX":325,"legendY":-2,"symbolType":"stroke","symbolSize":400,"symbolStrokeWidth":3,"labelFontSize":17,"labelOffset":6,"rowPadding":4,"padding":0}}
   }
  },
  {
   "width":639,"height":70,
   "data":{"name":"hits"},
   "mark":{"type":"tick","thickness":1.6,"size":12,"opacity":1},
   "encoding":{
    "x":{"field":"x","type":"quantitative","scale":{"domain":[0,15000],"nice":false},"axis":{"values":[2500,5000,7500,10000,12500],"grid":true,"labels":false,"ticks":false,"domain":false,"title":null}},
    "y":{"field":"g","type":"nominal","sort":["mTOR","Cell","B","T","AMPK"],"axis":{"labels":false,"ticks":false,"title":null,"domainWidth":1.5,"grid":false}},
    "color":{"field":"g","type":"nominal","scale":{"domain":["AMPK","B","Cell","mTOR","T"],"range":["#1F77B4","#FF7F0E","#2CA02C","#D62728","#9467BD"]},"legend":null}
   }
  },
  {
   "width":639,"height":199,
   "data":{"name":"metric"},
   "mark":{"type":"area","color":"#BEBEBE"},
   "encoding":{
    "x":{"field":"x","type":"quantitative","scale":{"domain":[0,15000],"nice":false},"axis":{"values":[2500,5000,7500,10000,12500,15000],"grid":true,"gridOpacity":{"condition":{"test":"datum.value>=15000","value":0},"value":1},"labelExpr":"datum.value%5000===0 ? format(datum.value,'d') : ''","tickOpacity":{"condition":{"test":"datum.value%5000===0","value":1},"value":0},"labelFlush":false,"labelOverlap":false,"labelPadding":3,"titlePadding":2,"title":"Rank in Ordered Dataset","domainWidth":1.5,"tickSize":4,"tickWidth":1.2}},
    "y":{"field":"m","type":"quantitative","scale":{"domain":[-0.985,2.07],"nice":false},"axis":{"values":[0,1,2],"format":"d","grid":false,"title":"Ranked List Metric","domainWidth":1.5,"tickSize":4,"tickWidth":1.2,"titleX":-56,"titleBaseline":"middle"}},
    "y2":{"datum":0}
   }
  }
 ],
 "spacing":6,
 "resolve":{"scale":{"color":"independent"}}
},
{
 "width":252,"height":610,
 "view":{"stroke":"#4D4D4D","strokeWidth":1},
 "title":{"text":"B","anchor":"start","frame":"group","dx":-307,"dy":27,"offset":-7,"baseline":"alphabetic"},
 "data":{"name":"dots"},
 "mark":{"type":"circle","opacity":1},
 "encoding":{
  "y":{"field":"d","type":"nominal","sort":null,"scale":{"type":"point","padding":0.6},"axis":{"title":null,"grid":true,"labelFontSize":17,"labelColor":"#1a1a1a","tickColor":"#333333","tickSize":4,"domain":false,"labelPadding":4}},
  "x":{"field":"r","type":"quantitative","scale":{"domain":[0.00305,0.0694],"nice":false,"zero":false},"axis":{"values":[0.01,0.02,0.03,0.04,0.05,0.06],"grid":true,"labelExpr":"(datum.value>0.015&&datum.value<0.025)||(datum.value>0.035&&datum.value<0.045)||(datum.value>0.055) ? format(datum.value,'.2f') : ''","tickOpacity":{"condition":{"test":"(datum.value>0.015&&datum.value<0.025)||(datum.value>0.035&&datum.value<0.045)||(datum.value>0.055)","value":1},"value":0},"title":"GeneRatio","labelFontSize":17,"labelColor":"#1a1a1a","titleFontSize":17,"domain":false,"tickColor":"#333333","tickSize":4,"labelOverlap":false,"labelPadding":2,"titlePadding":3}},
  "size":{"field":"c","type":"quantitative","scale":{"type":"pow","exponent":0.4,"domain":[4,39],"range":[86,484],"zero":false},"legend":{"title":"Count","values":[10,20,30],"orient":"none","legendX":259,"legendY":183,"symbolFillColor":"#000000","symbolStrokeWidth":0,"symbolOpacity":1,"titleFontSize":21,"labelFontSize":16,"rowPadding":2,"titlePadding":5,"padding":0}},
  "color":{"field":"pv","type":"quantitative","scale":{"domain":[0.0001,0.0071],"range":["#B22222","#DEB887"],"interpolate":"lab"},"legend":{"title":"p value","values":[0.002,0.004,0.006],"format":".3f","orient":"none","legendX":259,"legendY":303,"gradientLength":103,"gradientThickness":20,"titleFontSize":21,"labelFontSize":16,"titlePadding":5,"padding":0}}
 }
}
],
"spacing":3,
"resolve":{"scale":{"color":"independent","size":"independent"}}
}
